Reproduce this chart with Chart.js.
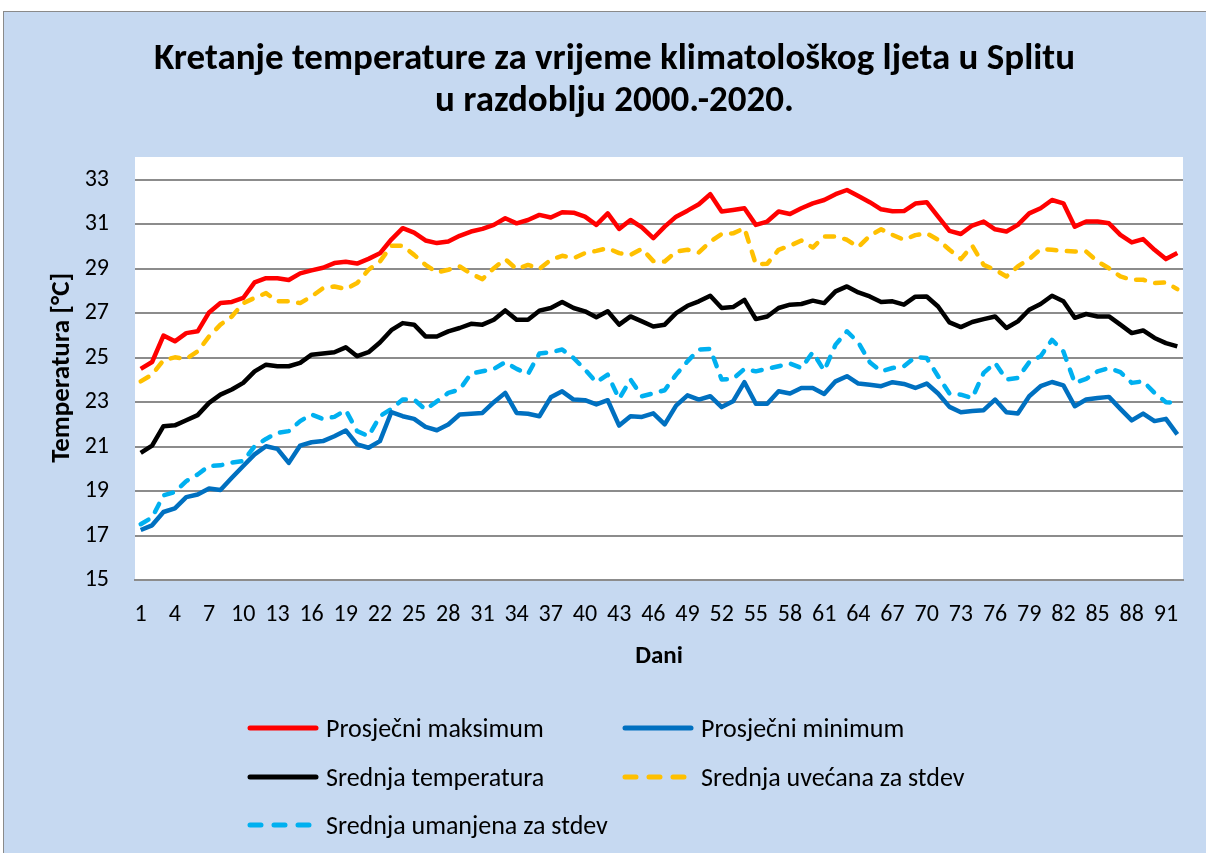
<!DOCTYPE html>
<html>
<head>
<meta charset="utf-8">
<script src="https://cdn.jsdelivr.net/npm/chart.js@4.4.1/dist/chart.umd.min.js"></script>
<style>
    html, body { margin: 0; padding: 0; background: #fff; }
    body { width: 1206px; height: 853px; overflow: hidden; position: relative; font-family: Carlito, Lato, sans-serif; }
    #frame {
        position: absolute; left: 3px; top: 11px; width: 1220px; height: 860px;
        background: #c6d9f1; border: 1px solid #8a8a8a; box-sizing: border-box;
    }
    #chartBox { position: absolute; left: 0; top: 0; width: 1206px; height: 853px; }
    #legend { position: absolute; left: 247px; top: 712px; width: 700px; }
    .leg-item { position: absolute; height: 32px; display: flex; align-items: center; font-size: 26px; color: #000; white-space: nowrap; }
    .leg-item canvas { margin-right: 7px; }
</style>
</head>
<body>
<div id="frame"></div>
<div id="chartBox"><canvas id="tempChart" width="1206" height="853"></canvas></div>
<div id="legend"></div>
<script>
// Dani 1-92 (klimatološko ljeto)
const dani = [];
for (let i = 1; i <= 92; i++) dani.push(String(i));

const yTicks = [15, 17, 19, 21, 23, 25, 27, 29, 31, 33];

// Prosječni maksimum
const maksimum = [
    24.50, 24.81, 26.00, 25.74, 26.11, 26.19, 27.04, 27.46, 27.51, 27.69,
    28.39, 28.58, 28.58, 28.50, 28.80, 28.93, 29.05, 29.26, 29.32, 29.24,
    29.45, 29.70, 30.32, 30.83, 30.63, 30.28, 30.16, 30.23, 30.49, 30.68,
    30.80, 30.98, 31.28, 31.05, 31.20, 31.43, 31.31, 31.55, 31.53, 31.35,
    30.98, 31.50, 30.80, 31.20, 30.87, 30.38, 30.90, 31.35, 31.62, 31.91,
    32.36, 31.58, 31.65, 31.73, 30.98, 31.13, 31.58, 31.47, 31.73, 31.95,
    32.10, 32.36, 32.55, 32.28, 32.00, 31.68, 31.59, 31.60, 31.94, 32.00,
    31.35, 30.71, 30.57, 30.95, 31.13, 30.78, 30.68, 30.98, 31.50, 31.73,
    32.10, 31.95, 30.90, 31.13, 31.13, 31.05, 30.53, 30.19, 30.34, 29.86,
    29.44, 29.71
];

// Prosječni minimum
const minimum = [
    17.25, 17.46, 18.06, 18.22, 18.73, 18.85, 19.12, 19.05, 19.60, 20.13,
    20.65, 21.02, 20.90, 20.27, 21.05, 21.20, 21.25, 21.47, 21.73, 21.10,
    20.95, 21.25, 22.55, 22.37, 22.25, 21.89, 21.74, 22.00, 22.45, 22.48,
    22.52, 23.00, 23.42, 22.52, 22.48, 22.37, 23.22, 23.49, 23.12, 23.09,
    22.90, 23.09, 21.95, 22.37, 22.34, 22.50, 22.00, 22.85, 23.31, 23.12,
    23.27, 22.78, 23.04, 23.90, 22.93, 22.93, 23.49, 23.39, 23.64, 23.64,
    23.37, 23.94, 24.17, 23.84, 23.79, 23.72, 23.90, 23.82, 23.64, 23.84,
    23.39, 22.79, 22.55, 22.60, 22.64, 23.12, 22.55, 22.49, 23.27, 23.72,
    23.91, 23.76, 22.82, 23.12, 23.19, 23.24, 22.70, 22.18, 22.49, 22.15,
    22.25, 21.55
];

// Srednja temperatura
const srednja = [
    20.72, 21.05, 21.92, 21.96, 22.19, 22.42, 22.97, 23.34, 23.57, 23.87,
    24.39, 24.69, 24.62, 24.62, 24.77, 25.14, 25.19, 25.25, 25.47, 25.07,
    25.25, 25.69, 26.24, 26.56, 26.49, 25.96, 25.96, 26.19, 26.34, 26.53,
    26.49, 26.71, 27.13, 26.71, 26.71, 27.12, 27.24, 27.51, 27.24, 27.09,
    26.82, 27.09, 26.49, 26.86, 26.64, 26.41, 26.49, 27.01, 27.34, 27.54,
    27.79, 27.24, 27.28, 27.61, 26.74, 26.86, 27.24, 27.39, 27.42, 27.57,
    27.46, 27.99, 28.21, 27.94, 27.76, 27.51, 27.54, 27.39, 27.75, 27.76,
    27.31, 26.59, 26.38, 26.61, 26.74, 26.86, 26.34, 26.64, 27.16, 27.42,
    27.79, 27.54, 26.80, 26.97, 26.86, 26.86, 26.49, 26.11, 26.23, 25.89,
    25.66, 25.51
];

// Srednja uvećana za stdev
const uvecana = [
    23.94, 24.24, 24.89, 25.02, 24.95, 25.29, 25.96, 26.49, 26.86, 27.46,
    27.69, 27.91, 27.54, 27.54, 27.46, 27.76, 28.13, 28.21, 28.09, 28.36,
    28.96, 29.33, 30.04, 30.04, 29.63, 29.18, 28.84, 28.96, 29.11, 28.78,
    28.54, 29.03, 29.44, 28.99, 29.18, 29.00, 29.41, 29.59, 29.48, 29.71,
    29.81, 29.93, 29.71, 29.63, 29.90, 29.35, 29.33, 29.78, 29.86, 29.74,
    30.23, 30.57, 30.60, 30.83, 29.21, 29.23, 29.86, 30.04, 30.28, 29.96,
    30.46, 30.46, 30.31, 29.98, 30.49, 30.78, 30.53, 30.31, 30.52, 30.60,
    30.31, 29.86, 29.44, 30.04, 29.18, 28.96, 28.66, 29.11, 29.44, 29.89,
    29.86, 29.81, 29.78, 29.78, 29.33, 29.03, 28.66, 28.51, 28.51, 28.36,
    28.39, 28.09
];

// Srednja umanjena za stdev
const umanjena = [
    17.51, 17.81, 18.81, 18.96, 19.45, 19.75, 20.13, 20.16, 20.28, 20.35,
    21.02, 21.35, 21.62, 21.70, 22.15, 22.45, 22.25, 22.34, 22.64, 21.70,
    21.47, 22.37, 22.70, 23.12, 23.12, 22.67, 23.04, 23.42, 23.57, 24.29,
    24.39, 24.50, 24.80, 24.50, 24.27, 25.19, 25.25, 25.37, 24.99, 24.47,
    23.90, 24.24, 23.15, 24.02, 23.27, 23.40, 23.54, 24.24, 24.84, 25.37,
    25.40, 24.02, 24.05, 24.50, 24.39, 24.50, 24.62, 24.74, 24.54, 25.25,
    24.42, 25.59, 26.19, 25.69, 24.80, 24.39, 24.54, 24.62, 25.03, 24.99,
    24.17, 23.39, 23.34, 23.19, 24.32, 24.77, 24.02, 24.09, 24.80, 25.07,
    25.81, 25.28, 23.87, 24.05, 24.39, 24.54, 24.35, 23.87, 23.94, 23.42,
    23.00, 22.97
];

const serije = [
    { label: 'Prosječni maksimum', data: maksimum, color: '#ff0000', dash: [] },
    { label: 'Prosječni minimum', data: minimum, color: '#0070c0', dash: [] },
    { label: 'Srednja temperatura', data: srednja, color: '#000000', dash: [] },
    { label: 'Srednja uvećana za stdev', data: uvecana, color: '#ffc000', dash: [9, 10.5] },
    { label: 'Srednja umanjena za stdev', data: umanjena, color: '#00b0f0', dash: [9, 10.5] }
];

const FONT = 'Carlito, Lato, sans-serif';

// bijela pozadina područja grafa (malo iznad zadnje linije mreže)
const plotBackground = {
    id: 'plotBackground',
    beforeDraw(chart) {
        const { ctx, chartArea } = chart;
        ctx.save();
        ctx.fillStyle = '#ffffff';
        ctx.fillRect(chartArea.left, chartArea.top - 23, chartArea.right - chartArea.left, chartArea.bottom - chartArea.top + 23);
        ctx.restore();
    }
};

const chart = new Chart(document.getElementById('tempChart'), {
    type: 'line',
    data: {
        labels: dani,
        datasets: serije.map(s => ({
            label: s.label,
            data: s.data,
            borderColor: s.color,
            backgroundColor: s.color,
            borderWidth: 4.5,
            borderDash: s.dash,
            borderCapStyle: s.dash.length ? 'round' : 'butt',
            borderJoinStyle: 'round',
            pointRadius: 0,
            tension: 0,
            fill: false
        }))
    },
    options: {
        responsive: false,
        animation: false,
        events: [],
        layout: {
            padding: { left: 46, right: 23, top: 0, bottom: 173 }
        },
        plugins: {
            legend: { display: false },
            tooltip: { enabled: false },
            title: {
                display: true,
                text: ['Kretanje temperature za vrijeme klimatološkog ljeta u Splitu', 'u razdoblju 2000.-2020.'],
                color: '#000',
                font: { family: FONT, size: 37, weight: 'bold', lineHeight: 1.135 },
                padding: { top: 39, bottom: 57 }
            }
        },
        scales: {
            x: {
                offset: true,
                grid: { display: false, drawTicks: false },
                border: { display: true, color: '#8c8c8c', width: 2 },
                ticks: {
                    autoSkip: false,
                    maxRotation: 0,
                    color: '#000',
                    padding: 21,
                    font: { family: FONT, size: 24 },
                    callback: function(value, index) {
                        return index % 3 === 0 ? dani[index] : '';
                    }
                },
                title: {
                    display: true,
                    text: 'Dani',
                    color: '#000',
                    font: { family: FONT, size: 25, weight: 'bold' },
                    padding: { top: 0, bottom: 8 }
                },
                afterFit: function(scale) { scale.height = 100; }
            },
            y: {
                min: 15,
                max: 33,
                afterBuildTicks: function(scale) {
                    scale.ticks = yTicks.map(v => ({ value: v }));
                },
                grid: { color: '#8c8c8c', lineWidth: 2, drawTicks: false },
                border: { display: false },
                ticks: {
                    color: '#000',
                    padding: 26,
                    font: { family: FONT, size: 24 }
                },
                title: {
                    display: true,
                    // razmaci na početku podižu naslov prema sredini bijelog područja
                    text: '\u00a0\u00a0\u00a0\u00a0Temperatura [°C]',
                    color: '#000',
                    font: { family: FONT, size: 27, weight: 'bold' },
                    padding: { top: 0, bottom: 0 }
                },
                afterFit: function(scale) { scale.width = 89; }
            }
        }
    },
    plugins: [plotBackground]
});

// Legenda u dva stupca, kao u originalu
const legendEl = document.getElementById('legend');
chart.data.datasets.forEach(function(ds, i) {
    const item = document.createElement('div');
    item.className = 'leg-item';
    item.style.left = (i % 2 === 0 ? 0 : 375) + 'px';
    item.style.top = (Math.floor(i / 2) * 48.5) + 'px';
    const sw = document.createElement('canvas');
    sw.width = 72; sw.height = 10;
    const c = sw.getContext('2d');
    c.strokeStyle = ds.borderColor;
    c.lineWidth = 5;
    c.lineCap = 'round';
    if (ds.borderDash.length) c.setLineDash([11, 13]);
    c.beginPath(); c.moveTo(3, 5); c.lineTo(69, 5); c.stroke();
    item.appendChild(sw);
    const txt = document.createElement('span');
    txt.textContent = ds.label;
    item.appendChild(txt);
    legendEl.appendChild(item);
});
</script>
</body>
</html>
